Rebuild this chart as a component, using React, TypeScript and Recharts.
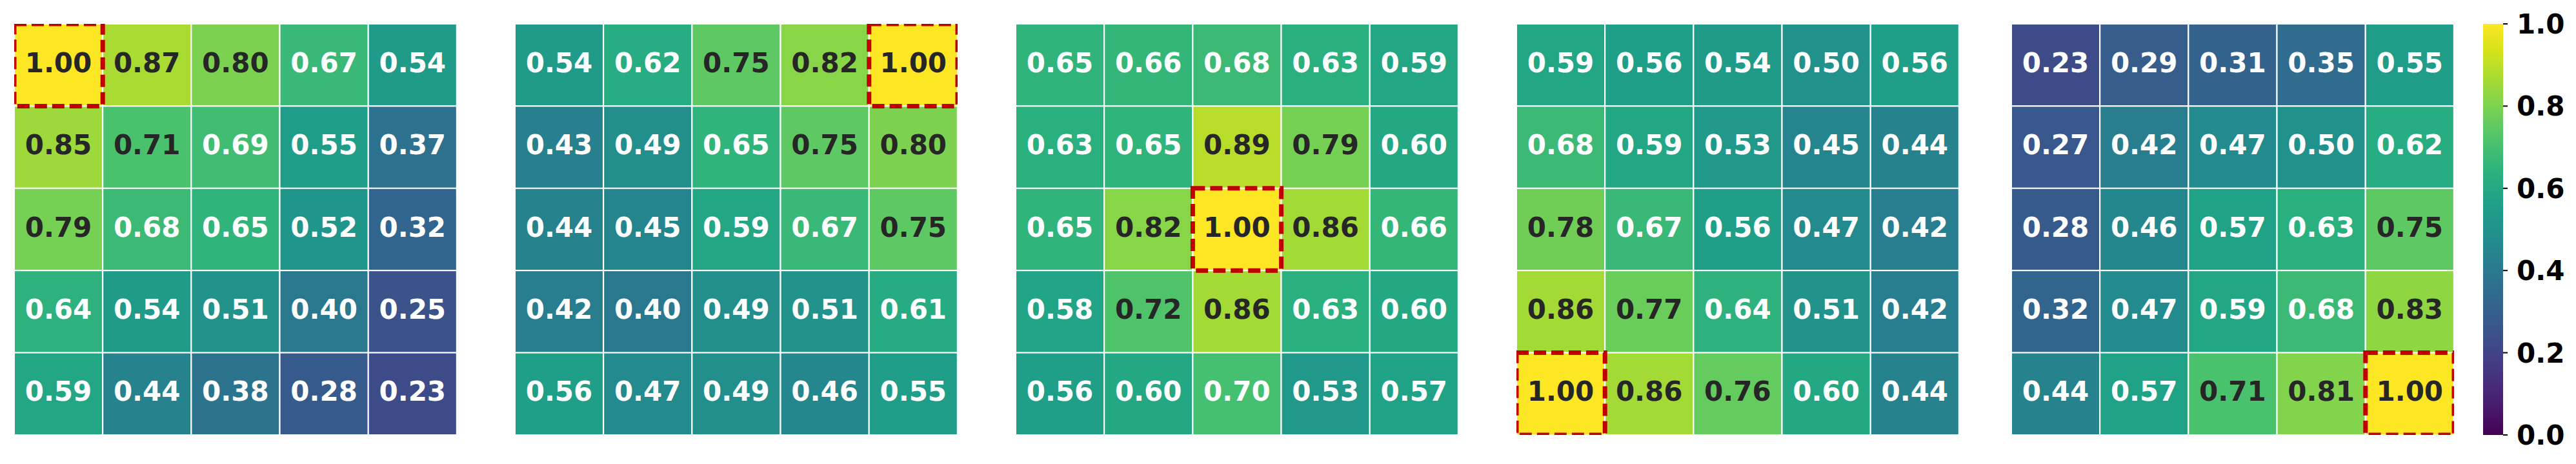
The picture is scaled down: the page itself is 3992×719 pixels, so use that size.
import { BarChart, Bar, XAxis, YAxis, ReferenceArea } from "recharts";

// five 5x5 similarity maps, row by row (top row first)
const panelA = [
	[1.0, 0.87, 0.8, 0.67, 0.54],
	[0.85, 0.71, 0.69, 0.55, 0.37],
	[0.79, 0.68, 0.65, 0.52, 0.32],
	[0.64, 0.54, 0.51, 0.4, 0.25],
	[0.59, 0.44, 0.38, 0.28, 0.23],
];
const panelB = [
	[0.54, 0.62, 0.75, 0.82, 1.0],
	[0.43, 0.49, 0.65, 0.75, 0.8],
	[0.44, 0.45, 0.59, 0.67, 0.75],
	[0.42, 0.4, 0.49, 0.51, 0.61],
	[0.56, 0.47, 0.49, 0.46, 0.55],
];
const panelC = [
	[0.65, 0.66, 0.68, 0.63, 0.59],
	[0.63, 0.65, 0.89, 0.79, 0.6],
	[0.65, 0.82, 1.0, 0.86, 0.66],
	[0.58, 0.72, 0.86, 0.63, 0.6],
	[0.56, 0.6, 0.7, 0.53, 0.57],
];
const panelD = [
	[0.59, 0.56, 0.54, 0.5, 0.56],
	[0.68, 0.59, 0.53, 0.45, 0.44],
	[0.78, 0.67, 0.56, 0.47, 0.42],
	[0.86, 0.77, 0.64, 0.51, 0.42],
	[1.0, 0.86, 0.76, 0.6, 0.44],
];
const panelE = [
	[0.23, 0.29, 0.31, 0.35, 0.55],
	[0.27, 0.42, 0.47, 0.5, 0.62],
	[0.28, 0.46, 0.57, 0.63, 0.75],
	[0.32, 0.47, 0.59, 0.68, 0.83],
	[0.44, 0.57, 0.71, 0.81, 1.0],
];
// highlighted cell [row, col] for each panel
const highlights = [
	[0, 0],
	[0, 4],
	[2, 2],
	[4, 0],
	[4, 4],
];
const colorbarTicks = [0, 0.2, 0.4, 0.6, 0.8, 1.0];

const rowKeys = ["r0", "r1", "r2", "r3", "r4"];
const colKeys = ["c0", "c1", "c2", "c3", "c4"];

const viridis = [
	"#440154", "#48186a", "#472d7b", "#424086", "#3b528b", "#33638d",
	"#2c728e", "#26828e", "#21918c", "#1fa088", "#28ae80", "#3fbc73",
	"#5ec962", "#84d44b", "#addc30", "#d8e219", "#fde725",
];

const hex = (c: string) => [1, 3, 5].map((i) => parseInt(c.slice(i, i + 2), 16));
const colorFor = (v: number) => {
	const t = Math.max(0, Math.min(1, v)) * (viridis.length - 1);
	const i = Math.min(Math.floor(t), viridis.length - 2);
	const f = t - i;
	const a = hex(viridis[i]);
	const b = hex(viridis[i + 1]);
	const m = a.map((x, k) => Math.round(x + (b[k] - x) * f));
	return `rgb(${m[0]},${m[1]},${m[2]})`;
};

const FONT = "'DejaVu Sans', Verdana, sans-serif";

const buildData = (values: number[][]) =>
	colKeys.map((c, j) => {
		const d: any = { col: c };
		rowKeys.forEach((r, i) => {
			d[r] = 1;
			d["v" + i] = values[i][j];
		});
		return d;
	});

const makeCell = (row: number) => (p: any) => {
	const v = p.payload["v" + row];
	const top = Math.min(p.y, p.y + p.height);
	const h = Math.abs(p.height);
	return (
		<g>
			<rect x={p.x} y={top} width={p.width} height={h} fill={colorFor(v)} stroke="#fff" strokeWidth={2} />
			<text
				x={p.x + p.width / 2}
				y={top + h / 2 + 11}
				textAnchor="middle"
				fontFamily={FONT}
				fontWeight="bold"
				fontSize={42}
				fill={v >= 0.705 ? "#262626" : "#ffffff"}
			>
				{v.toFixed(2)}
			</text>
		</g>
	);
};

const HEAT_W = 686;
const HEAT_H = 637;
const CB_PAD = 30;

const Heatmap = ({ values, hl, left }: { values: number[][]; hl: number[]; left: number }) => (
	<div style={{ position: "absolute", left, top: 37 }}>
		<BarChart width={HEAT_W} height={HEAT_H} data={buildData(values)} margin={{ top: 0, right: 0, bottom: 0, left: 0 }} barCategoryGap={0} barGap={0}>
			<XAxis dataKey="col" type="category" hide />
			<YAxis type="number" domain={[0, 5]} reversed hide allowDataOverflow />
			{rowKeys.map((r, i) => (
				<Bar key={r} dataKey={r} stackId="s" isAnimationActive={false} shape={makeCell(i)} />
			))}
			<ReferenceArea
				x1={colKeys[hl[1]]}
				x2={colKeys[hl[1]]}
				y1={hl[0]}
				y2={hl[0] + 1}
				fill="none"
				fillOpacity={0}
				stroke="#c00000"
				strokeWidth={7}
				strokeDasharray="19 8"
				ifOverflow="visible"
				zIndex={1500}
			/>
		</BarChart>
	</div>
);

const colorbarData = [{ k: "cb", v: 1 }];

export default function App() {
	const panels = [panelA, panelB, panelC, panelD, panelE];
	const lefts = [22, 798, 1574, 2350, 3117];
	return (
		<div style={{ position: "absolute", left: 0, top: 0, width: 3992, height: 719, background: "#fff", overflow: "hidden" }}>
			<svg width={0} height={0} style={{ position: "absolute" }}>
				<defs>
					<linearGradient id="viridisGrad" x1="0" y1="1" x2="0" y2="0">
						{viridis.map((c, i) => (
							<stop key={i} offset={i / (viridis.length - 1)} stopColor={c} />
						))}
					</linearGradient>
				</defs>
			</svg>
			{panels.map((p, i) => (
				<Heatmap key={i} values={p} hl={highlights[i]} left={lefts[i]} />
			))}
			<div style={{ position: "absolute", left: 3848, top: 37 - CB_PAD }}>
				<BarChart
					width={144}
					height={HEAT_H + 2 * CB_PAD}
					data={colorbarData}
					margin={{ top: CB_PAD, right: 0, bottom: CB_PAD, left: 0 }}
					barCategoryGap={0}
				>
					<XAxis dataKey="k" hide />
					<YAxis
						orientation="right"
						type="number"
						domain={[0, 1]}
						ticks={colorbarTicks}
						width={113}
						axisLine={false}
						tickSize={7}
						tickMargin={14}
						tickLine={{ stroke: "#000", strokeWidth: 2 }}
						tickFormatter={(t: number) => t.toFixed(1)}
						tick={{ fill: "#000", fontSize: 42, fontWeight: "bold", fontFamily: FONT }}
						interval={0}
					/>
					<Bar dataKey="v" fill="url(#viridisGrad)" isAnimationActive={false} />
				</BarChart>
			</div>
		</div>
	);
}
